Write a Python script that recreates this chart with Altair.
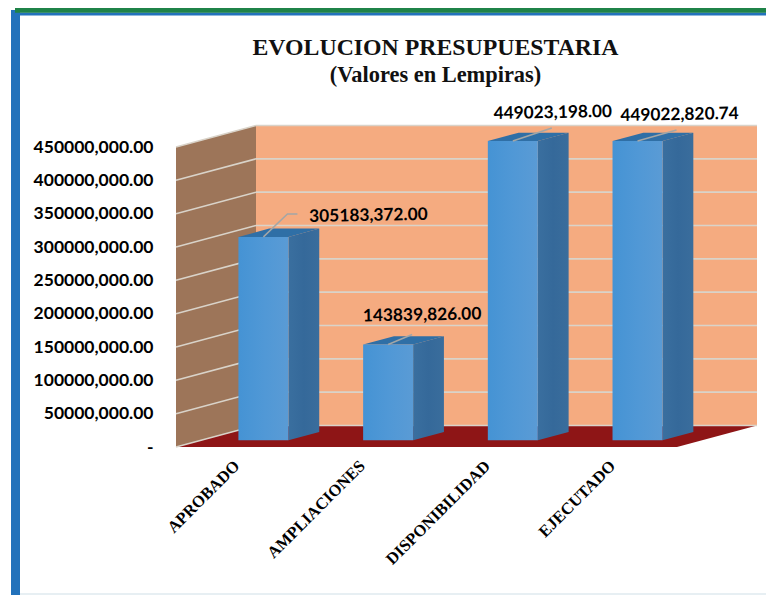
import altair as alt
import pandas as pd

CATEGORIES = ["APROBADO", "AMPLIACIONES", "DISPONIBILIDAD", "EJECUTADO"]
VALUES = [305183372.00, 143839826.00, 449023198.00, 449022820.74]
LABELS = ["305183,372.00", "143839,826.00", "449023,198.00", "449022,820.74"]
TICKS = [0, 50e6, 100e6, 150e6, 200e6, 250e6, 300e6, 350e6, 400e6, 450e6]

# scale constants
PX_X = 125.25          # px per category
PX_Y = 1.5e6           # value per px
W, H = 579, 321
DEPTH_X = 80 / PX_X    # wall depth in category units
DEPTH_Y = 21.5 * PX_Y  # wall depth in value units
N = len(CATEGORIES)
BAR_W = 50 / PX_X
BAR_STEP = 124.7 / PX_X
F0, F1 = 0.31, 0.695   # bar depth range, fraction of the wall depth

cat_js = "[" + ",".join(f"'{c}'" for c in CATEGORIES) + "]"
xs = alt.Scale(domain=[0, W / PX_X], nice=False, zero=False)
ys = alt.Scale(domain=[0, H * PX_Y], nice=False, zero=False)
X = alt.X("x:Q", scale=xs, title=None, axis=alt.Axis(
    values=[i + 0.5 for i in range(N)], labelExpr=f"{cat_js}[floor(datum.value)]",
    labelAngle=-45, labelAlign="right", labelBaseline="middle", labelFont="Liberation Serif",
    labelFontWeight="bold", labelFontSize=16.5, labelColor="#000000", labelPadding=16, labelOffset=-2,
    domain=False, ticks=False, grid=False))
Y = alt.Y("y:Q", scale=ys, title=None, axis=alt.Axis(
    values=TICKS, labelExpr="datum.value==0 ? '-\u00a0\u00a0\u00a0' : format(datum.value/1000,'d')+',000.00'",
    labelFont="Lato", labelFontWeight="bold", labelFontSize=17.5, labelColor="#000000", labelPadding=23,
    domain=False, ticks=False, grid=False))
Y2 = alt.Y2("y2:Q")

def grad(*cols):
    n = len(cols) - 1
    return alt.Gradient(gradient="linear", x1=0, x2=1, y1=0, y2=0,
                        stops=[alt.GradientStop(offset=i / n, color=c) for i, c in enumerate(cols)])

def area(rows, color, op=1):
    df = pd.DataFrame(rows, columns=["k", "x", "y", "y2"])
    return alt.Chart(df).mark_area(color=color, opacity=op, interpolate="linear").encode(
        x=X, y=Y, y2=Y2, detail="k:N")

top = TICKS[-1]
left_wall = area([(0, 0, 0, top), (0, DEPTH_X, DEPTH_Y, top + DEPTH_Y)], "#9d7559")
back_wall = area([(0, DEPTH_X, DEPTH_Y, top + DEPTH_Y), (0, N + DEPTH_X, DEPTH_Y, top + DEPTH_Y)],
                 "#f5ab80")
floor = area([(0, 0, 0, 0), (0, DEPTH_X, 0, DEPTH_Y), (0, N, 0, DEPTH_Y), (0, N + DEPTH_X, DEPTH_Y, DEPTH_Y)],
             "#8e1516")

grid_rows = []
for i, t in enumerate(TICKS):
    grid_rows += [(i, 0, t), (i, DEPTH_X, t + DEPTH_Y)]
    grid_rows += [(i + 100, DEPTH_X, t + DEPTH_Y), (i + 100, N + DEPTH_X, t + DEPTH_Y)]
grid = alt.Chart(pd.DataFrame(grid_rows, columns=["k", "x", "y"])).mark_line(
    color="#d9d3c9", strokeWidth=1.6, interpolate="linear").encode(x=X, y=Y, detail="k:N")

side_rows, top_rows, front_rows = [], [], []
ddx = (F1 - F0) * DEPTH_X
ddy = (F1 - F0) * DEPTH_Y
for i, v in enumerate(VALUES):
    x0 = i * BAR_STEP + 0.5 + F0 * DEPTH_X - BAR_W / 2
    x1 = x0 + BAR_W
    y0 = F0 * DEPTH_Y
    vt = v + y0
    front_rows.append((x0, x1, y0, vt))
    side_rows += [(i, x1, y0, vt), (i, x1 + ddx, y0 + ddy, vt + ddy)]
    top_rows += [(i, x0, vt, vt), (i, x0 + ddx, vt, vt + ddy), (i, x1, vt, vt + ddy), (i, x1 + ddx, vt + ddy, vt + ddy)]

side = area(side_rows, grad("#3a6f9f", "#35699a", "#3a6d9c"))
bar_top = area(top_rows, "#2f6fa6")
front = alt.Chart(pd.DataFrame(front_rows, columns=["x", "x1", "y", "y2"])).mark_rect(
    color=grad("#4593d4", "#5098d6", "#5a9bd5")).encode(x=X, x2="x1:Q", y=Y, y2=Y2)

# label placement relative to the top-centre of each bar's front face, px
LABEL_OFF = [(105, -21), (34, -29), (40, -28), (42, -26)]
LEADER = [[(0, 0), (24, -23), (34, -23)], [(0, 0), (24, -10)], [(0, 0), (39, -13)], [(0, 0), (39, -11)]]
lab_rows, lead_rows = [], []
for i, v in enumerate(VALUES):
    cx = front_rows[i][0] + BAR_W / 2
    cy = front_rows[i][3]
    ox, oy = LABEL_OFF[i]
    lab_rows.append((cx + ox / PX_X, cy - oy * PX_Y, LABELS[i]))
    for px, py in LEADER[i]:
        lead_rows.append((i, cx + px / PX_X, cy - py * PX_Y))
leaders = alt.Chart(pd.DataFrame(lead_rows, columns=["k", "x", "y"])).mark_line(
    color="#a3a6a6", strokeWidth=1.5, interpolate="linear").encode(x=X, y=Y, detail="k:N")
labels = alt.Chart(pd.DataFrame(lab_rows, columns=["x", "y", "t"])).mark_text(
    font="Lato", fontWeight="bold", fontSize=17.3, color="#000000", angle=359, align="center", baseline="middle"
).encode(x=X, y=Y, text="t:N")

# page frame, px relative to the plot area (whose origin is page 176,126)
def frame(x0, x1, y0, y1, color):
    return alt.Chart(pd.DataFrame({"a": [0]})).mark_rect(color=color).encode(
        x=alt.value(x0 - 176), x2=alt.value(x1 - 176), y=alt.value(y0 - 126), y2=alt.value(y1 - 126))

frames = [frame(11, 20, 10, 595, "#2272bb"), frame(15, 766, 12.5, 15.5, "#2272bb"),
          frame(15, 766, 8, 12.8, "#1f8348"), frame(20, 766, 593, 595, "#e7eff3")]

chart = alt.layer(
    *frames, left_wall, back_wall, floor, grid, side, bar_top, front, leaders, labels
).properties(
    width=W, height=H,
    padding={"left": 168, "top": 118, "right": 11, "bottom": 148},
    autosize=alt.AutoSizeParams(type="none"),
    background="#ffffff",
    title=alt.TitleParams(
        text="EVOLUCION PRESUPUESTARIA", subtitle="(Valores en Lempiras)",
        font="Liberation Serif", fontWeight="bold", fontSize=23.8, color="#111111",
        subtitleFont="Liberation Serif", subtitleFontWeight="bold", subtitleFontSize=22.4,
        subtitleColor="#111111", subtitlePadding=4, anchor="middle", frame="group", dx=-30, offset=-78.5),
).configure_view(stroke=None)

chart.save("out.html", embed_options={"renderer": "svg", "actions": False})
